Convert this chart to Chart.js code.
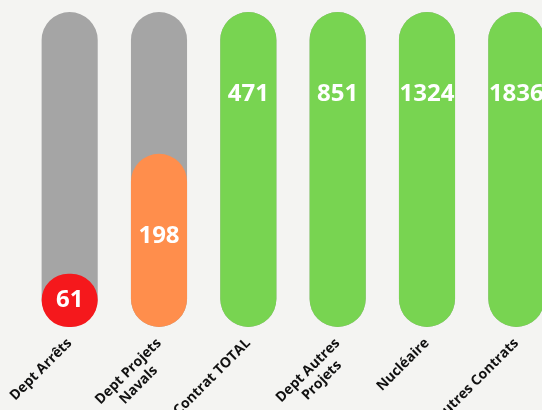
<!DOCTYPE html>
<html>
<head>
<meta charset="utf-8">
<script src="https://cdn.jsdelivr.net/npm/chart.js@4"></script>
<style>
  html, body { margin: 0; padding: 0; background: #f4f4f2; overflow: hidden; }
  .wrap { position: relative; width: 561px; height: 410px; }
</style>
</head>
<body>
<div class="wrap"><canvas id="barChart"></canvas></div>
<script>
// Chart data
const categories = [
  "Dept Arrêts",
  ["Dept Projets", "Navals      "],
  "Contrat TOTAL",
  ["Dept Autres", "Projets    "],
  "Nucléaire",
  "Autres Contrats",
];
const values = [61, 198, 471, 851, 1324, 1836];
const barColors = ["#f5181c", "#ff8e4c", "#78d451", "#78d451", "#78d451", "#78d451"];
const scaleMax = 360;

// bars above the scale are shown full height, label keeps the real value
const shownValues = values.map((v) => Math.min(v, scaleMax));
const trackValues = values.map(() => scaleMax);

const valueLabels = {
  id: "valueLabels",
  afterDatasetsDraw(chart) {
    const ctx = chart.ctx;
    const meta = chart.getDatasetMeta(0);
    ctx.save();
    ctx.fillStyle = "#ffffff";
    ctx.font = "bold 24px 'Open Sans'";
    ctx.textAlign = "center";
    ctx.textBaseline = "middle";
    meta.data.forEach((bar, i) => {
      const h = bar.base - bar.y;
      ctx.fillText(values[i], bar.x, bar.y + Math.min(82, h / 2));
    });
    ctx.restore();
  },
};

const ctx = document.getElementById("barChart").getContext("2d");
const chart = new Chart(ctx, {
  type: "bar",
  data: {
    labels: categories,
    datasets: [
      {
        data: shownValues,
        backgroundColor: barColors,
        borderRadius: 28,
        borderSkipped: false,
        grouped: false,
        barPercentage: 0.628,
        categoryPercentage: 1,
      },
      {
        data: trackValues,
        backgroundColor: "#a5a5a5",
        borderRadius: 28,
        borderSkipped: false,
        grouped: false,
        barPercentage: 0.628,
        categoryPercentage: 1,
      },
    ],
  },
  options: {
    responsive: true,
    maintainAspectRatio: false,
    animation: false,
    layout: {
      padding: { top: 12, left: 25, right: 0, bottom: 0 },
    },
    plugins: {
      legend: { display: false },
      tooltip: { enabled: false },
    },
    scales: {
      x: {
        grid: { display: false },
        border: { display: false },
        afterFit(scale) {
          scale.height = 83;
          scale.paddingLeft = 0;
        },
        ticks: {
          color: "#111111",
          minRotation: 45,
          maxRotation: 45,
          padding: 0,
          font: { family: "'Open Sans'", size: 14, weight: "bold" },
        },
      },
      y: {
        display: false,
        min: 0,
        max: scaleMax,
      },
    },
  },
  plugins: [valueLabels],
});
</script>
</body>
</html>
